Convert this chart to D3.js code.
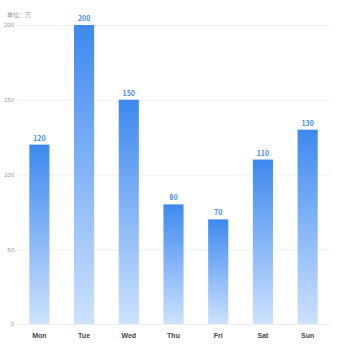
<!DOCTYPE html>
<html>
<head>
<meta charset="utf-8">
<script src="https://cdn.jsdelivr.net/npm/d3@7"></script>
<style>
  body { margin: 0; background: #fff; }
  svg { font-family: "Noto Sans CJK SC", "Noto Sans", sans-serif; }
</style>
</head>
<body>
<script>
// chart data
var days = ["Mon", "Tue", "Wed", "Thu", "Fri", "Sat", "Sun"];
var values = [120, 200, 150, 80, 70, 110, 130];
var yTicks = [0, 50, 100, 150, 200];
var unitLabel = "单位：万";

var width = 350, height = 350;
var margin = {top: 25, right: 20, bottom: 26, left: 17};

var svg = d3.select("body").append("svg")
  .attr("width", width)
  .attr("height", height);

// gradient for the bars
var grad = svg.append("defs").append("linearGradient")
  .attr("id", "barGrad")
  .attr("x1", 0).attr("y1", 0).attr("x2", 0).attr("y2", 1);
grad.append("stop").attr("offset", "0%").attr("stop-color", "#3d89ef");
grad.append("stop").attr("offset", "100%").attr("stop-color", "#cde2ff");

var x = d3.scaleBand()
  .domain(days)
  .range([margin.left, width - margin.right])
  .paddingInner(0.55)
  .paddingOuter(0.275);

var y = d3.scaleLinear()
  .domain([0, 200])
  .range([height - margin.bottom, margin.top]);

// grid lines
svg.append("g")
  .selectAll("line")
  .data(yTicks)
  .enter()
  .append("line")
  .attr("x1", margin.left)
  .attr("x2", width - margin.right)
  .attr("y1", function(d){ return y(d) + 0.5; })
  .attr("y2", function(d){ return y(d) + 0.5; })
  .attr("stroke", "#efefef")
  .attr("stroke-width", 1);

// y axis labels
var yAxis = svg.append("g")
  .attr("transform", "translate(" + (margin.left - 3) + ",0)")
  .call(d3.axisLeft(y).tickValues(yTicks).tickSize(0).tickPadding(0));
yAxis.select(".domain").remove();
yAxis.selectAll("text")
  .attr("fill", "#999")
  .style("font-size", "6px");

// unit label
svg.append("text")
  .attr("x", 7)
  .attr("y", 17)
  .attr("fill", "#999")
  .style("font-size", "6px")
  .text(unitLabel);

// bars
svg.append("g")
  .selectAll("rect")
  .data(values)
  .enter()
  .append("rect")
  .attr("x", function(d, i){ return x(days[i]); })
  .attr("y", function(d){ return y(d); })
  .attr("width", x.bandwidth())
  .attr("height", function(d){ return y(0) - y(d); })
  .attr("fill", "url(#barGrad)");

// value labels
svg.append("g")
  .selectAll("text")
  .data(values)
  .enter()
  .append("text")
  .attr("x", function(d, i){ return x(days[i]) + x.bandwidth() / 2; })
  .attr("y", function(d){ return y(d) - 4; })
  .attr("text-anchor", "middle")
  .attr("fill", "#3f8cf0")
  .style("font-size", "7px")
  .style("font-weight", "600")
  .text(function(d){ return d; });

// x axis labels
var xAxis = svg.append("g")
  .attr("transform", "translate(0," + (height - margin.bottom) + ")")
  .call(d3.axisBottom(x).tickSize(0).tickPadding(9));
xAxis.select(".domain").remove();
xAxis.selectAll("text")
  .attr("fill", "#444")
  .style("font-size", "7px")
  .style("font-weight", "600");
</script>
</body>
</html>
